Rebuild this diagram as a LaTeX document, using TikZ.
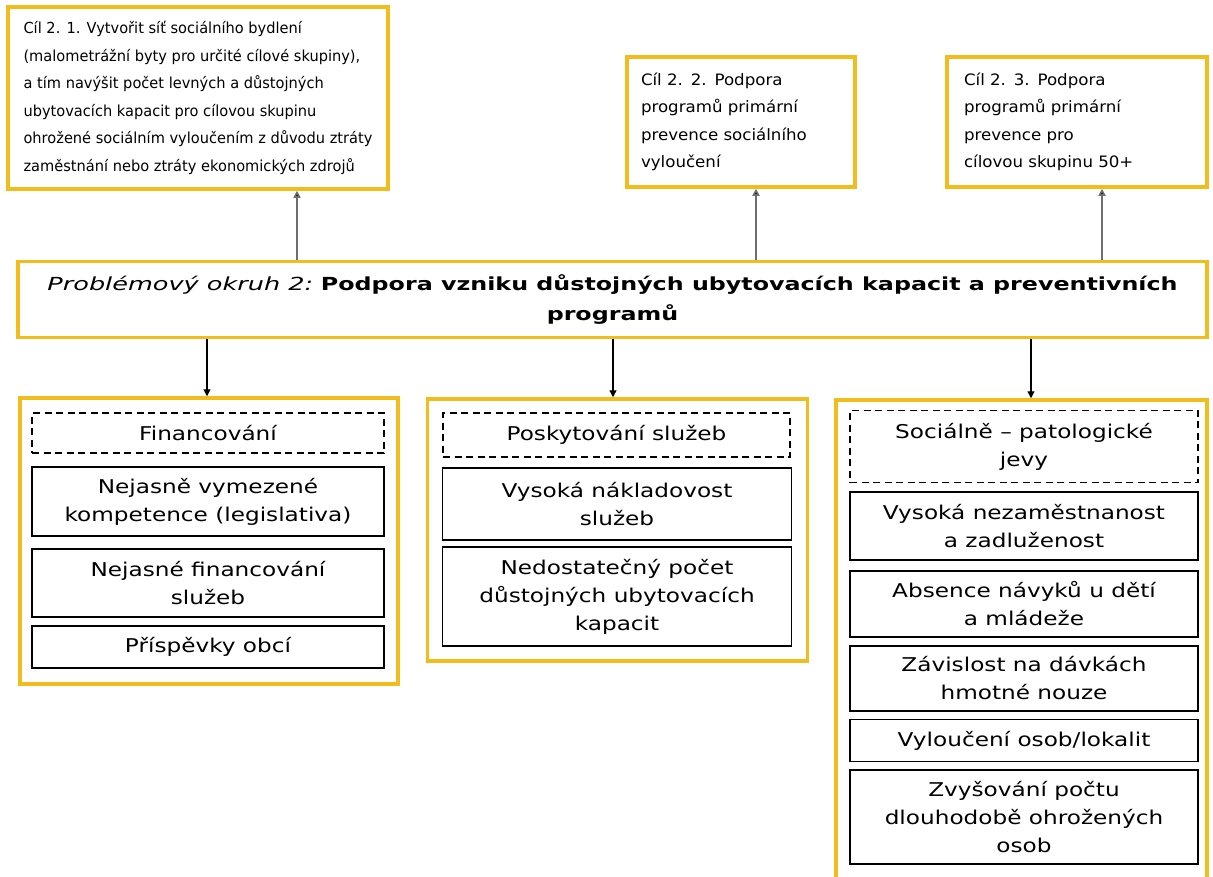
\documentclass[tikz,border=0pt]{standalone}
\usepackage{fontspec}
\setmainfont{DejaVu Sans}
\newfontfamily\goalfont[FakeStretch=0.96]{DejaVu Sans}
\newfontfamily\goalfontb[FakeStretch=1.06]{DejaVu Sans}
\newfontfamily\probit[FakeStretch=1.42]{DejaVu Sans}
\newfontfamily\probbf[FakeStretch=1.32]{DejaVu Sans}
\newfontfamily\itemfont[FakeStretch=1.22]{DejaVu Sans}
\usetikzlibrary{arrows.meta}
\definecolor{gold}{RGB}{242,188,28}
\definecolor{conn}{RGB}{110,110,110}
\tikzset{
  goalbox/.style={draw=gold, line width=3.5pt, fill=white, inner xsep=10pt, inner ysep=4pt,
    align=left, font=\goalfont\fontsize{15.2}{27.5}\selectfont},
  goalboxb/.style={goalbox, inner xsep=14pt, font=\goalfontb\fontsize{15.7}{27.5}\selectfont},
  mainbox/.style={draw=gold, line width=3.5pt, fill=white, align=center,
    font=\fontsize{18}{30}\selectfont},
  groupbox/.style={draw=gold, line width=3.5pt, fill=white},
  itembox/.style={draw=black, line width=1.1pt, fill=white, align=center, inner sep=2pt,
    font=\itemfont\fontsize{19}{28}\selectfont},
  headbox/.style={itembox, dashed, dash pattern=on 7pt off 4.5pt},
  uparrow/.style={draw=conn, line width=1.6pt, -{Triangle[length=7pt,width=7pt,fill=black]}},
  downarrow/.style={draw=black, line width=1.2pt, -{Triangle[length=7pt,width=7pt]}},
}
\begin{document}
\begin{tikzpicture}[x=1pt,y=-1pt]
\useasboundingbox[fill=white] (0,0) rectangle (1213,876);

% goals
\node[goalbox, minimum width=380, minimum height=182] (g1) at (198,98)
 {Cíl 2. 1. Vytvořit síť sociálního bydlení\\(malometrážní byty pro určité cílové skupiny),\\a tím navýšit počet levných a důstojných\\ubytovacích kapacit pro cílovou skupinu\\ohrožené sociálním vyloučením z důvodu ztráty\\zaměstnání nebo ztráty ekonomických zdrojů};
\node[goalboxb, minimum width=228, minimum height=130, text width=200] (g2) at (741,122)
 {Cíl 2. 2. Podpora\\programů primární\\prevence sociálního\\vyloučení\phantom{ý}};
\node[goalboxb, minimum width=260, minimum height=130, text width=226] (g3) at (1077,122)
 {Cíl 2. 3. Podpora\\programů primární\\prevence pro\\cílovou skupinu 50+};

% main problem
\node[mainbox, minimum width=1189, minimum height=76] (m) at (612.5,299.5)
 {{\probit\itshape Problémový okruh 2:} {\probbf\bfseries Podpora vzniku důstojných ubytovacích kapacit a preventivních}\\{\probbf\bfseries programů}};

% groups
\node[groupbox, minimum width=378, minimum height=286] (A) at (209,541) {};
\node[groupbox, minimum width=380, minimum height=262] (B) at (617.5,530) {};
\node[groupbox, minimum width=371, minimum height=500] (C) at (1021.5,650) {};

% group A
\node[headbox, minimum width=352, minimum height=40] (a0) at (208,433) {Financování};
\node[itembox, minimum width=352, minimum height=69] (a1) at (208,501.5) {Nejasně vymezené\\kompetence (legislativa)};
\node[itembox, minimum width=352, minimum height=68] (a2) at (208,583) {Nejasné financování\\služeb};
\node[itembox, minimum width=352, minimum height=42] (a3) at (208,647) {Příspěvky obcí};

% group B
\node[headbox, minimum width=347, minimum height=44] (b0) at (616.5,435) {Poskytování služeb};
\node[itembox, minimum width=349, minimum height=72] (b1) at (617,504) {Vysoká nákladovost\\služeb};
\node[itembox, minimum width=349, minimum height=99] (b2) at (617,596.5) {Nedostatečný počet\\důstojných ubytovacích\\kapacit};

% group C
\node[headbox, minimum width=348, minimum height=72] (c0) at (1024,446.5) {Sociálně – patologické\\jevy};
\node[itembox, minimum width=348, minimum height=68] (c1) at (1024,526) {Vysoká nezaměstnanost\\a zadluženost};
\node[itembox, minimum width=348, minimum height=66] (c2) at (1024,604) {Absence návyků u dětí\\a mládeže};
\node[itembox, minimum width=348, minimum height=65] (c3) at (1024,678.5) {Závislost na dávkách\\hmotné nouze};
\node[itembox, minimum width=348, minimum height=42] (c4) at (1024,740.5) {Vyloučení osob/lokalit};
\node[itembox, minimum width=348, minimum height=94] (c5) at (1024,817) {Zvyšování počtu\\dlouhodobě ohrožených\\osob};

% connector columns
\coordinate (u1) at (297,0);
\coordinate (u2) at (756,0);
\coordinate (u3) at (1102,0);
\coordinate (d1) at (207,0);
\coordinate (d2) at (613,0);
\coordinate (d3) at (1031,0);

\draw[uparrow] (u1 |- m.north) -- (u1 |- g1.south);
\draw[uparrow] (u2 |- m.north) -- (u2 |- g2.south);
\draw[uparrow] (u3 |- m.north) -- (u3 |- g3.south);
\draw[downarrow] (d1 |- m.south) -- (d1 |- A.north);
\draw[downarrow] (d2 |- m.south) -- (d2 |- B.north);
\draw[downarrow] (d3 |- m.south) -- (d3 |- C.north);
\end{tikzpicture}
\end{document}
